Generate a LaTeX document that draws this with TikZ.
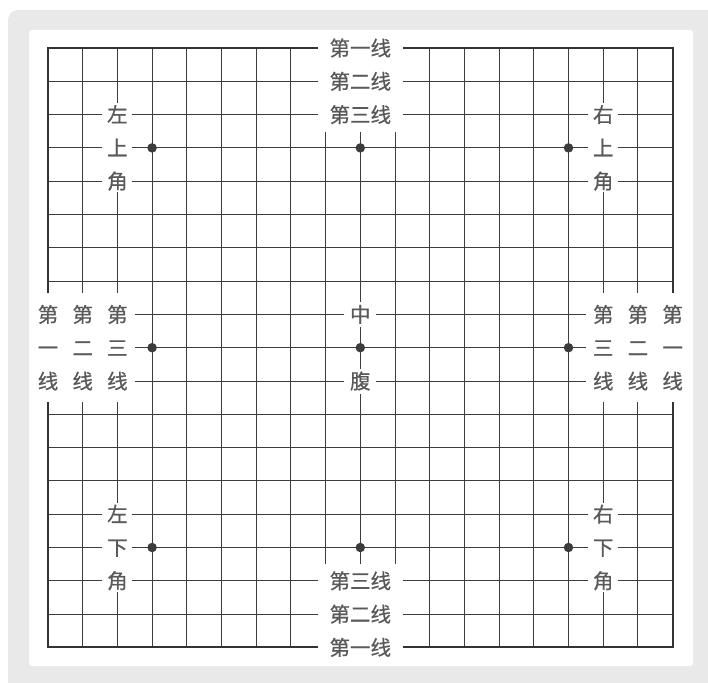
\documentclass[tikz,border=0pt]{standalone}
\usepackage{fontspec}
\newfontfamily\cjk[FakeBold=0.6]{Noto Sans CJK SC}
\definecolor{boardink}{HTML}{3C3C3C}
\definecolor{framegray}{HTML}{E9E9E9}
\tikzset{
  gline/.style   = {draw=boardink, line width=1pt},
  gedge/.style   = {draw=boardink!85!black, line width=2pt},
  gstar/.style   = {circle, fill=boardink, inner sep=0pt, minimum size=9.5pt},
  glabel/.style  = {fill=white, inner sep=0pt, align=center, text=boardink!85,
                    font=\cjk\fontsize{20.5}{33.3}\selectfont},
  gtop/.style    = {glabel, minimum width=85pt, minimum height=101pt},
  gcorner/.style = {glabel, minimum width=30pt, minimum height=89pt},
  gside/.style   = {glabel, minimum width=34.7pt, minimum height=109pt},
  gmid/.style    = {glabel, minimum width=32pt, minimum height=25pt},
}
\begin{document}
\begin{tikzpicture}[x=1pt, y=-1pt]
\useasboundingbox (0,0) rectangle (708,682);

% ---------------- frame -----------------------------------------------
\fill[framegray, rounded corners=10pt] (8,10) rectangle (730,700);
\fill[white, rounded corners=3pt] (29,30) rectangle (693,666);

\begin{scope}[shift={(48,48)}, x=34.7pt, y=-33.3pt]

% ---------------- the board -------------------------------------------
\foreach \i in {1,...,17} {
  \draw[gline] (\i,0) -- (\i,18);
  \draw[gline] (0,\i) -- (18,\i);
}
\draw[gedge] (0,0) rectangle (18,18);

\foreach \i in {3,9,15}
  \foreach \j in {3,9,15}
    \node[gstar] (s\i\j) at (\i,\j) {};

% ---------------- edge lines ------------------------------------------
\node[gtop] (ltop) at (9,1) {第一线\\第二线\\第三线};
\node[gtop] (lbot) at (9,17) {第三线\\第二线\\第一线};

\node[gside] (lleft1) at (0,9) {第\\一\\线};
\node[gside] (lleft2) at (1,9) {第\\二\\线};
\node[gside] (lleft3) at (2,9) {第\\三\\线};
\node[gside] (lright3) at (16,9) {第\\三\\线};
\node[gside] (lright2) at (17,9) {第\\二\\线};
\node[gside] (lright1) at (18,9) {第\\一\\线};

% ---------------- corners and centre ----------------------------------
\node[gcorner] (lul) at (2,3) {左\\上\\角};
\node[gcorner] (lur) at (16,3) {右\\上\\角};
\node[gcorner] (lll) at (2,15) {左\\下\\角};
\node[gcorner] (llr) at (16,15) {右\\下\\角};

\node[gmid] (lzhong) at (9,8) {中};
\node[gmid] (lfu) at (9,10) {腹};

\end{scope}
\end{tikzpicture}
\end{document}
